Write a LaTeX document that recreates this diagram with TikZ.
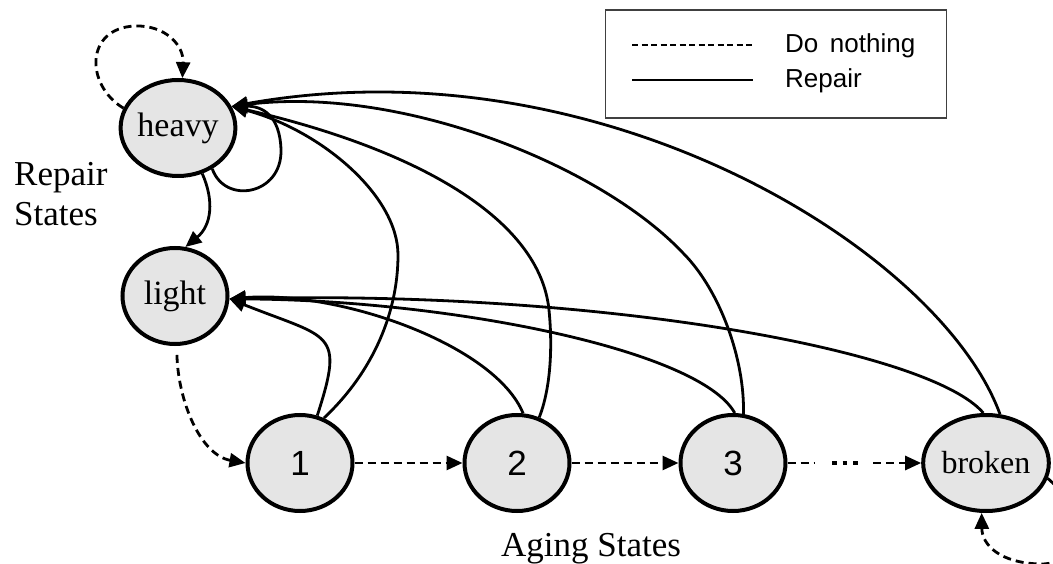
\documentclass[tikz,border=0pt]{standalone}
\usepackage{fontspec}
\setmainfont{Liberation Serif}
\newfontfamily\legendfont{Liberation Sans}
\usetikzlibrary{arrows.meta,shapes.geometric}

\tikzset{
  state/.style={ellipse, draw=black, line width=4pt, fill=black!10,
    minimum width=105pt, minimum height=96pt, inner sep=0pt,
    font=\fontsize{34}{36}\selectfont},
  agestate/.style={state, font=\legendfont\fontsize{35}{36}\selectfont},
  tip/.style={-{Triangle[length=16pt,width=14pt]}},
  repair/.style={line width=2.8pt, tip},
  donothing/.style={line width=2.8pt, dash pattern=on 8pt off 5pt, tip},
  lbl/.style={font=\fontsize{35}{40}\selectfont, inner sep=0pt},
  legendtext/.style={font=\legendfont\fontsize{26}{30}\selectfont, inner sep=0pt, anchor=base west}
}

\begin{document}
\begin{tikzpicture}[x=1pt, y=-1pt]
\useasboundingbox (0,0) rectangle (1053,564);
\clip (0,0) rectangle (1053,564);

% states
\node[state] (heavy) at (178,128) {heavy};
\node[state] (light) at (175,296) {light};
\node[agestate] (n1) at (300,463) {1};
\node[agestate] (n2) at (517,463) {2};
\node[agestate] (n3) at (733,463) {3};
\node[state, font=\fontsize{32}{34}\selectfont] (broken) at (986,463) {broken};

% group labels
\node[lbl, anchor=west, align=left] (rs) at (14,194) {Repair\\States};
\node[lbl] (ag) at (591,549) {Aging States};

% legend
\node[draw=black!75, line width=1.6pt, minimum width=341pt, minimum height=108pt, inner sep=0pt] (legend) at (776,64) {};
\coordinate (dnA) at (632,45);
\coordinate (dnB) at (753,45);
\coordinate (rpA) at (632,80);
\coordinate (rpB) at (753,80);
\draw[line width=2.4pt, dash pattern=on 6pt off 3.5pt] (dnA) -- (dnB);
\draw[line width=2.4pt] (rpA) -- (rpB);
\node[legendtext] (dntext) at (785,53) {Do\, nothing};
\node[legendtext] (rptext) at (785,88) {Repair};

% do-nothing transitions
\draw[donothing] (heavy.160) .. controls (85,85) and (85,28) .. (135,26)
  .. controls (165,25) and (184,45) .. (heavy.85);
\draw[donothing, shorten <=9pt] (light.-88) .. controls (178,400) and (200,455) .. (n1.west);
\draw[donothing] (n1.east) -- (n2.west);
\draw[donothing] (n2.east) -- (n3.west);
\coordinate (gapA) at (815,463);
\coordinate (gapB) at (873,463);
\coordinate (dotA) at (832,463);
\coordinate (dotB) at (860,463);
\draw[line width=2.8pt, dash pattern=on 8pt off 5pt] (n3.east) -- (gapA);
\draw[line width=4.5pt, dash pattern=on 4.5pt off 6pt] (dotA) -- (dotB);
\draw[donothing] (gapB) -- (broken.west);
\draw[donothing] (broken.-14) .. controls (1075,500) and (1090,565) .. (1040,564)
  .. controls (1000,563) and (982,545) .. (broken.-95);

% repair transitions into heavy
\draw[repair] (heavy.-50) .. controls (225,205) and (282,195) .. (281,150)
  .. controls (280,115) and (262,106) .. (heavy.22);
\draw[repair] (heavy.-62) .. controls (214,200) and (212,225) .. (light.78);
\draw[repair] (n1.62) .. controls (375,370) and (398,310) .. (398,255)
  .. controls (398,195) and (320,130) .. (heavy.22);
\draw[repair] (n2.64) .. controls (550,390) and (553,350) .. (549,310)
  .. controls (540,220) and (420,150) .. (heavy.22);
\draw[repair] (n3.78) .. controls (745,360) and (720,290) .. (683,253)
  .. controls (600,165) and (400,85) .. (heavy.22);
\draw[repair] (broken.74) .. controls (940,250) and (600,40) .. (heavy.22);

% repair transitions into light
\draw[repair] (n1.70) .. controls (345,330) and (330,339) .. (light.-3);
\draw[repair] (n2.83) .. controls (495,345) and (340,290) .. (light.-3);
\draw[repair] (n3.88) .. controls (700,350) and (450,300) .. (light.-3);
\draw[repair] (broken.93) .. controls (930,350) and (600,290) .. (light.-3);
\end{tikzpicture}
\end{document}
